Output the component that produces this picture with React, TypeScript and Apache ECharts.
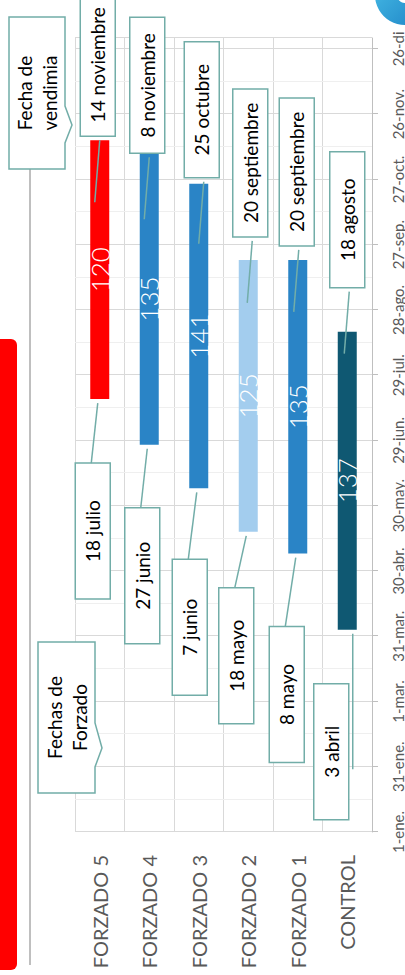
import React, { useEffect, useRef } from 'react';
import * as echarts from 'echarts';

// ---------- data ----------
const categories = ['FORZADO 5', 'FORZADO 4', 'FORZADO 3', 'FORZADO 2', 'FORZADO 1', 'CONTROL'];
const forcingDates = ['2020-07-18', '2020-06-27', '2020-06-07', '2020-05-18', '2020-05-08', '2020-04-03'];
const harvestDates = ['2020-11-14', '2020-11-08', '2020-10-25', '2020-09-20', '2020-09-20', '2020-08-18'];
const forcingLabels = ['18 julio', '27 junio', '7 junio', '18 mayo', '8 mayo', '3 abril'];
const harvestLabels = ['14 noviembre', '8 noviembre', '25 octubre', '20 septiembre', '20 septiembre', '18 agosto'];
const cycleDays = [120, 135, 141, 125, 135, 137];
const tickLabels = ['1-ene.', '31-ene.', '1-mar.', '31-mar.', '30-abr.', '30-may.', '29-jun.', '29-jul.', '28-ago.', '27-sep.', '27-oct.', '26-nov.', '26-di'];
const barColors = ['#FF0000', '#2A84C6', '#2A84C6', '#A3CDEE', '#2A84C6', '#0F5872'];

// ---------- layout (unrotated frame: 975 x 405) ----------
const W = 975;
const H = 405;
const endGap = [4, 0, 6, 23, 14, 44];
const endShift = [-2, -2, 3, 2, -1, 0];
const startGap = [64, 63, 71, 56, 73, 54];
const startShift = [-7, -7, -9, -12, -11, -16];
const BORDER = '#72ADA8';
const BOX_H = 35;
const BOX_MIN_W = 136;
const CALLOUT_FONT = '19px Lato';

const dayOfYear = (s: string) => {
  const d = new Date(s + 'T00:00:00Z');
  return Math.round((d.getTime() - Date.UTC(d.getUTCFullYear(), 0, 1)) / 86400000);
};

export default function App() {
  const ref = useRef<HTMLDivElement>(null);

  useEffect(() => {
    document.body.style.margin = '0';
    if (!ref.current) return;
    const chart = echarts.init(ref.current, null, { renderer: 'svg', width: W, height: H });
    const start = forcingDates.map(dayOfYear);
    const end = harvestDates.map(dayOfYear);

    chart.setOption({
      animation: false,
      grid: { left: 143, right: 38, top: 75, bottom: 33 },
      xAxis: {
        type: 'value',
        min: 0,
        max: 365,
        interval: 30,
        axisLine: { show: true, lineStyle: { color: '#BFBFBF', width: 1 } },
        axisTick: { show: true, length: 6, lineStyle: { color: '#BFBFBF' } },
        axisLabel: {
          showMaxLabel: false,
          margin: 18,
          fontSize: 15,
          fontFamily: 'Lato',
          color: '#595959',
          formatter: (v: number) => (v % 30 === 0 ? tickLabels[v / 30] ?? '' : ''),
        },
        splitLine: { show: true, lineStyle: { color: '#D9D9D9', width: 1 } },
        minorTick: { show: false, splitNumber: 2 },
        minorSplitLine: { show: true, lineStyle: { color: '#EFEFEF', width: 1 } },
      },
      yAxis: {
        type: 'category',
        data: categories,
        inverse: true,
        axisLine: { show: false },
        axisTick: { show: false },
        axisLabel: { margin: 23, fontSize: 20, fontFamily: 'Lato', color: '#595959' },
        splitLine: { show: true, lineStyle: { color: '#D9D9D9', width: 1 } },
      },
      series: [
        {
          type: 'bar',
          stack: 'g',
          barWidth: 19,
          silent: true,
          itemStyle: { color: 'transparent' },
          data: start,
        },
        {
          type: 'bar',
          stack: 'g',
          barWidth: 19,
          data: end.map((e, i) => ({ value: e - start[i], itemStyle: { color: barColors[i] } })),
          label: {
            show: true,
            position: 'inside',
            color: '#FFFFFF',
            fontSize: 26,
            fontFamily: 'Lato',
            fontWeight: 300,
            formatter: (p: any) => String(cycleDays[p.dataIndex]),
          },
        },
      ],
    });

    const ctx = document.createElement('canvas').getContext('2d')!;
    ctx.font = CALLOUT_FONT;
    const boxW = (t: string) => Math.max(BOX_MIN_W, Math.round(ctx.measureText(t).width + 28));

    const g: any[] = [];
    const box = (x: number, y: number, w: number, text: string) => {
      g.push({ type: 'rect', z: 100, shape: { x, y, width: w, height: BOX_H }, style: { fill: '#FFFFFF', stroke: BORDER, lineWidth: 1.5 } });
      g.push({
        type: 'text', z: 101,
        style: { text, x: x + w / 2, y: y + BOX_H / 2, font: CALLOUT_FONT, fill: '#000000', align: 'center', verticalAlign: 'middle', textAlign: 'center', textVerticalAlign: 'middle' },
      });
    };
    const line = (x1: number, y1: number, x2: number, y2: number) => {
      g.push({ type: 'line', z: 102, shape: { x1, y1, x2, y2 }, style: { stroke: BORDER, lineWidth: 1.5 } });
    };

    categories.forEach((_, i) => {
      const [ue, vc] = chart.convertToPixel({ gridIndex: 0 }, [end[i], i]) as number[];
      const [us] = chart.convertToPixel({ gridIndex: 0 }, [start[i], i]) as number[];
      // harvest (end) callout
      const we = boxW(harvestLabels[i]);
      const bx = ue + endGap[i];
      const bcv = vc + endShift[i];
      box(bx, bcv - BOX_H / 2, we, harvestLabels[i]);
      line(bx - 4, bcv + 2, bx - 66, bcv - 3);
      // forcing (start) callout
      const ws = boxW(forcingLabels[i]);
      const far = us - startGap[i];
      const scv = vc + startShift[i];
      box(far - ws, scv - BOX_H / 2, ws, forcingLabels[i]);
      if (i === categories.length - 1) {
        line(us - 4, scv + BOX_H / 2 + 4, far - ws * 0.63, scv + BOX_H / 2 + 4);
      } else {
        line(us - 4, vc - 2, far, scv - 1.5);
      }
    });

    // legend-like callouts
    const callout = (u0: number, u1: number, v0: number, v1: number, pA: number, pTip: number, pB: number, tipV: number, text: string) => {
      g.push({
        type: 'polygon', z: 100,
        shape: { points: [[u0, v0], [u1, v0], [u1, v1], [pA, v1], [pTip, tipV], [pB, v1], [u0, v1]] },
        style: { fill: '#FFFFFF', stroke: BORDER, lineWidth: 1.5 },
      });
      g.push({
        type: 'text', z: 101,
        style: { text, x: (u0 + u1) / 2, y: (v0 + v1) / 2, font: CALLOUT_FONT, lineHeight: 25, fill: '#000000', align: 'center', verticalAlign: 'middle', textAlign: 'center', textVerticalAlign: 'middle' },
      });
    };
    // ground line
    g.push({ type: 'line', z: 50, shape: { x1: 10, y1: 30, x2: 806, y2: 30 }, style: { stroke: '#BFBFBF', lineWidth: 2 } });
    callout(806, 958, 9, 65, 869, 850, 832, 72, 'Fecha de\nvendimia');
    callout(182, 333, 38, 95, 252, 227, 208, 102, 'Fechas de\nForzado');
    // red side band
    g.push({ type: 'rect', z: 50, shape: { x: 5, y: -10, width: 631, height: 27, r: 6 }, style: { fill: '#FF0000' } });
    // logo fragment
    g.push({
      type: 'ring', z: 50,
      shape: { cx: 980, cy: 405, r: 30, r0: 8 },
      style: {
        fill: new echarts.graphic.LinearGradient(0, 1, 1, 0, [
          { offset: 0, color: '#1A7FC3' },
          { offset: 1, color: '#4CC3EA' },
        ]),
      },
    });

    chart.setOption({ graphic: g });
    return () => chart.dispose();
  }, []);

  return (
    <div style={{ width: 405, height: 975, position: 'relative', overflow: 'hidden', background: '#FFFFFF' }}>
      <div
        ref={ref}
        style={{
          position: 'absolute',
          left: 0,
          top: 0,
          width: W,
          height: H,
          transformOrigin: '0 0',
          transform: `translateY(${W}px) rotate(-90deg)`,
        }}
      />
    </div>
  );
}
